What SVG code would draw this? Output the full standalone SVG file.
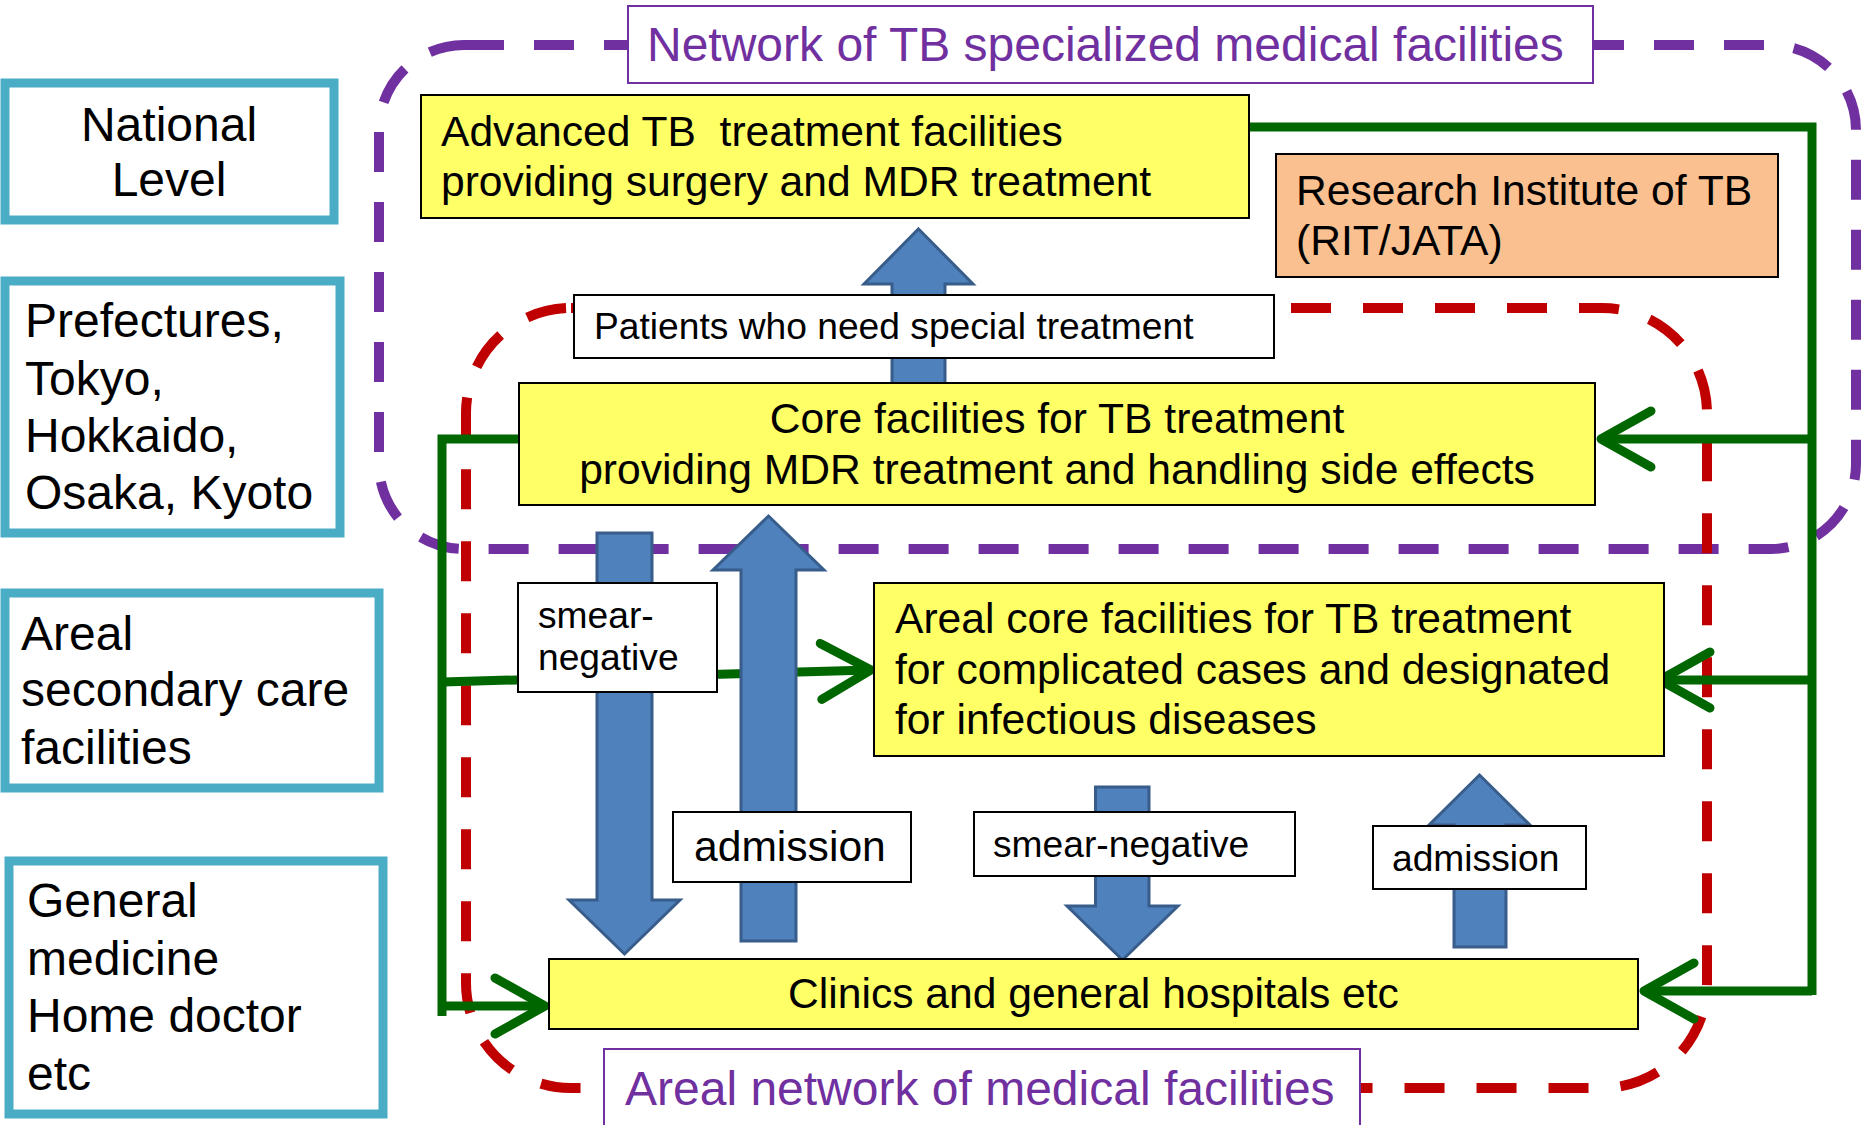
<svg xmlns="http://www.w3.org/2000/svg" width="1864" height="1125" viewBox="0 0 1864 1125">
<style>
text{font-family:"Liberation Sans",Arial,sans-serif;fill:#000}
.lvl{fill:#fff;stroke:#4BACC6;stroke-width:9}
.lt{font-size:48px}
.yb{fill:#FFFF66;stroke:#000;stroke-width:2}
.wb{fill:#fff;stroke:#000;stroke-width:2}
.pb{fill:#fff;stroke:#7030A0;stroke-width:2}
.t42{font-size:42.6px}
.t37{font-size:37.2px}
.pt{font-size:48px;fill:#7030A0}
.blue{fill:#4F81BD;stroke:#385D8A;stroke-width:3}
.g{fill:none;stroke:#006600;stroke-width:9}
.ga{fill:none;stroke:#006600;stroke-width:9;marker-end:url(#chev)}
</style>
<defs>
<marker id="chev" markerUnits="userSpaceOnUse" orient="auto" refX="0" refY="0" markerWidth="120" markerHeight="120" viewBox="-60 -60 120 120" overflow="visible">
<path d="M-50,-28 L0,0 L-50,28" fill="none" stroke="#006600" stroke-width="9" stroke-linecap="round" stroke-linejoin="round"/>
</marker>
</defs>

<g id="levels">
<g id="national"><rect class="lvl" x="5" y="83" width="329" height="137"/>
<text class="lt" text-anchor="middle"><tspan x="169" y="141">National</tspan><tspan x="169" y="196">Level</tspan></text></g>
<g id="prefectures"><rect class="lvl" x="5" y="281" width="335" height="252"/>
<text class="lt"><tspan x="25" y="337">Prefectures,</tspan><tspan x="25" y="395">Tokyo,</tspan><tspan x="25" y="452">Hokkaido,</tspan><tspan x="25" y="509">Osaka, Kyoto</tspan></text></g>
<g id="areal-secondary"><rect class="lvl" x="5" y="593" width="374" height="195"/>
<text class="lt"><tspan x="21" y="650">Areal</tspan><tspan x="21" y="706">secondary care</tspan><tspan x="21" y="764">facilities</tspan></text></g>
<g id="general"><rect class="lvl" x="9" y="861" width="374" height="253"/>
<text class="lt"><tspan x="27" y="917">General</tspan><tspan x="27" y="975">medicine</tspan><tspan x="27" y="1032">Home doctor</tspan><tspan x="27" y="1090">etc</tspan></text></g>
</g>

<g id="regions">
<rect x="379" y="45" width="1477" height="504" rx="85" fill="none" stroke="#7030A0" stroke-width="10" stroke-dasharray="40 30"/>
<rect x="466" y="308" width="1241" height="780" rx="105" fill="none" stroke="#C00000" stroke-width="10" stroke-dasharray="40 32"/>
</g>

<g id="connectors">
<path class="g" d="M519,439 H442 V1016"/>
<path class="ga" d="M442,682 L871,670"/>
<path class="ga" d="M438,1006 H545"/>
<path class="g" d="M1249,127 H1812 V995"/>
<path class="ga" d="M1812,439 H1601"/>
<path class="ga" d="M1812,680 H1660"/>
<path class="ga" d="M1812,991 H1644"/>
<polygon class="blue" points="918.5,229 973,284 945,284 945,384 892,384 892,284 864,284"/>
<polygon class="blue" points="597,533 652,533 652,900 680,900 624.5,954 569,900 597,900"/>
<polygon class="blue" points="768.5,516 824,570 796,570 796,941 741,941 741,570 713,570"/>
<polygon class="blue" points="1095.5,787 1149,787 1149,906 1178,906 1122.5,960 1067,906 1095.5,906"/>
<polygon class="blue" points="1479.5,775 1530,825 1506,825 1506,947 1454,947 1454,825 1429,825"/>
</g>

<g id="network-label"><rect class="pb" x="628" y="6" width="965" height="77"/>
<text class="pt" x="647" y="61">Network of TB specialized medical facilities</text></g>
<g id="areal-network-label"><rect class="pb" x="604" y="1049" width="756" height="90"/>
<text class="pt" x="625" y="1105">Areal network of medical facilities</text></g>

<g id="advanced"><rect class="yb" x="421" y="95" width="828" height="123"/>
<text class="t42" xml:space="preserve"><tspan x="441" y="146">Advanced TB  treatment facilities</tspan><tspan x="441" y="196">providing surgery and MDR treatment</tspan></text></g>
<g id="rit"><rect x="1276" y="154" width="502" height="123" fill="#FAC090" stroke="#000" stroke-width="2"/>
<text class="t42"><tspan x="1296" y="205">Research Institute of TB</tspan><tspan x="1296" y="255">(RIT/JATA)</tspan></text></g>
<g id="patients-label"><rect class="wb" x="574" y="295" width="700" height="63"/>
<text class="t37" x="594" y="339">Patients who need special treatment</text></g>
<g id="core"><rect class="yb" x="519" y="383" width="1076" height="122"/>
<text class="t42" text-anchor="middle"><tspan x="1057" y="433">Core facilities for TB treatment</tspan><tspan x="1057" y="484">providing MDR treatment and handling side effects</tspan></text></g>
<g id="smear-left"><rect class="wb" x="518" y="583" width="199" height="109"/>
<text class="t37"><tspan x="538" y="628">smear-</tspan><tspan x="538" y="670">negative</tspan></text></g>
<g id="areal-core"><rect class="yb" x="874" y="583" width="790" height="173"/>
<text class="t42"><tspan x="895" y="633">Areal core facilities for TB treatment</tspan><tspan x="895" y="684">for complicated cases and designated</tspan><tspan x="895" y="734">for infectious diseases</tspan></text></g>
<g id="admission-left"><rect class="wb" x="673" y="812" width="238" height="70"/>
<text class="t42" x="694" y="861">admission</text></g>
<g id="smear-right"><rect class="wb" x="974" y="812" width="321" height="64"/>
<text class="t37" x="993" y="857">smear-negative</text></g>
<g id="admission-right"><rect class="wb" x="1373" y="826" width="213" height="63"/>
<text class="t37" x="1392" y="871">admission</text></g>
<g id="clinics"><rect class="yb" x="549" y="959" width="1089" height="70"/>
<text class="t42" text-anchor="middle" x="1093.5" y="1008">Clinics and general hospitals etc</text></g>
</svg>
